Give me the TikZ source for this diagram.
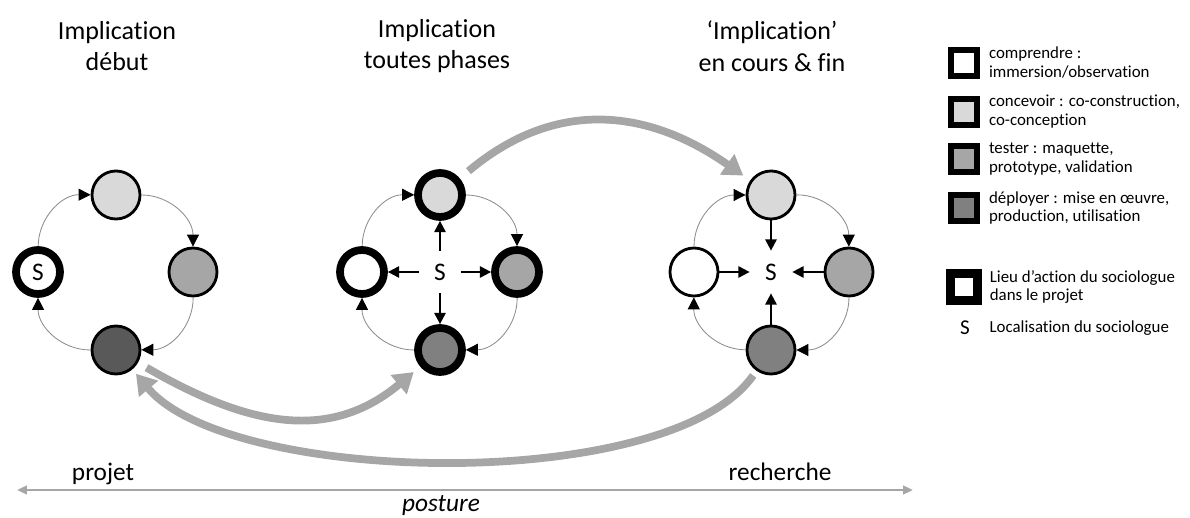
\documentclass[tikz,border=0pt]{standalone}
\usepackage{fontspec}
\setmainfont{Carlito}[Ligatures={NoCommon,NoRequired,NoContextual}]
\usepackage{tikz}
\usetikzlibrary{arrows.meta}
\usetikzlibrary{positioning}
\tikzset{
	phase/.style={circle,draw,line width=2pt,minimum size=1.2cm,inner sep=0pt},
	lieu/.style={line width=5.5pt,minimum size=1.1cm},
	socio/.style={circle,minimum size=30pt,inner sep=0pt,font=\fontsize{18}{20}\selectfont},
	cyc/.style={-{Triangle[length=8.5pt,width=8.5pt,color=black]},draw=black!45,line width=0.6pt,bend left=45},
	sarrow/.style={-{Triangle[length=8pt,width=8pt]},line width=1.4pt},
	bigarrow/.style={-{Triangle[length=14pt,width=17pt]},draw=black!35,line width=5.5pt},
	title/.style={align=center,font=\fontsize{18.5}{22.5}\selectfont},
	legbox/.style={draw,line width=4pt,minimum size=0.65cm,inner sep=0pt},
	legtext/.style={align=left,font=\fontsize{12}{13.5}\selectfont}
}

\begin{document}
\begin{tikzpicture}[x=0.025cm,y=0.025cm]
\useasboundingbox (0,0) rectangle (1190,518);

% titres
\node[title] (h1) at (117,472) {Implication\\début};
\node[title] (h2) at (437,472) {Implication\\toutes phases};
\node[title] (h3) at (772,472) {‘Implication’\\en cours \& fin};

% cycle 1 : implication au debut
\node[phase,fill=black!15] (t1) at (116,323) {};
\node[phase,fill=black!35] (r1) at (193,246) {};
\node[phase,fill=black!65] (b1) at (116,168) {};
\node[phase,lieu,fill=white,font=\fontsize{18}{20}\selectfont] (l1) at (38,246) {S};

% cycle 2 : toutes phases
\node[phase,lieu,fill=black!15] (t2) at (440,323) {};
\node[phase,lieu,fill=black!35] (r2) at (517,246) {};
\node[phase,lieu,fill=black!50] (b2) at (440,168) {};
\node[phase,lieu,fill=white] (l2) at (362,246) {};
\node[socio] (s2) at (440,246) {S};

% cycle 3 : en cours et fin
\node[phase,fill=black!15] (t3) at (771,323) {};
\node[phase,fill=black!35] (r3) at (849,246) {};
\node[phase,fill=black!50] (b3) at (771,168) {};
\node[phase,fill=white] (l3) at (694,246) {};
\node[socio] (s3) at (771,246) {S};

\foreach \c in {1,2,3}{
	\draw[cyc] (l\c) to (t\c);
	\draw[cyc] (t\c) to (r\c);
	\draw[cyc] (r\c) to (b\c);
	\draw[cyc] (b\c) to (l\c);
}

\foreach \p in {t,r,b,l}{
	\draw[sarrow] (s2) -- (\p2);
	\draw[sarrow] (\p3) -- (s3);
}

% grosses fleches
\draw[bigarrow,shorten <=8pt,shorten >=6pt] (t2) to[out=40,in=145,looseness=1.1] (t3);
\draw[bigarrow,shorten <=7pt,shorten >=6pt] (b1) to[out=-30,in=-140,looseness=1.1] (b2);
\draw[bigarrow,shorten <=4pt,shorten >=4pt] (b3) to[out=-125,in=-50,looseness=0.62] (b1);

% posture
\coordinate (pl) at (17,28);
\coordinate (pr) at (913,28);
\draw[{Triangle[length=7pt,width=6pt]}-{Triangle[length=7pt,width=6pt]},draw=black!35,line width=2pt] (pl) -- (pr);
\node[anchor=base,font=\fontsize{18}{20}\selectfont] (pj) at (103,37) {projet};
\node[anchor=base,font=\fontsize{18}{20}\selectfont] (rc) at (780,37) {recherche};
\node[anchor=base,font=\fontsize{18}{20}\selectfont\itshape] (po) at (441,6) {posture};

% legende
\node[legbox,fill=white] (k1) at (964,455) {};
\node[legbox,fill=black!15] (k2) at (964,406) {};
\node[legbox,fill=black!35] (k3) at (964,359) {};
\node[legbox,fill=black!50] (k4) at (964,310) {};
\node[legbox,line width=6.5pt,minimum size=0.675cm,fill=white] (k5) at (964,231) {};
\node[font=\fontsize{15}{17}\selectfont] (k6) at (965,190) {S};
\node[legtext,right=3pt of k1] (e1) {comprendre :\\immersion/observation};
\node[legtext,right=3pt of k2] (e2) {concevoir : co-construction,\\co-conception};
\node[legtext,right=3pt of k3] (e3) {tester : maquette,\\prototype, validation};
\node[legtext,right=3pt of k4] (e4) {déployer : mise en œuvre,\\production, utilisation};
\node[legtext,right=2pt of k5] (e5) {Lieu d’action du sociologue\\dans le projet};
\node[legtext,right=7pt of k6] (e6) {Localisation du sociologue};
\end{tikzpicture}
\end{document}
